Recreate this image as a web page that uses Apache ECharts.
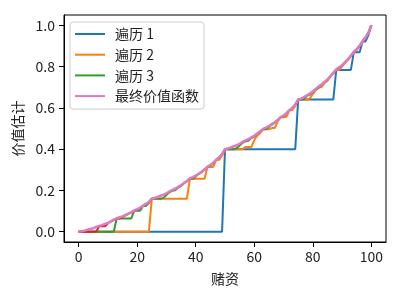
<!DOCTYPE html>
<html>
<head>
<meta charset="utf-8">
<script src="https://cdn.jsdelivr.net/npm/echarts@6/dist/echarts.min.js"></script>
<style>html,body{margin:0;padding:0;background:#fff}#c{width:400px;height:300px}</style>
</head>
<body>
<div id="c"></div>
<script>
// Stakes (x categories) 0..100
const stakes = Array.from({length: 101}, (_, i) => i);
const xTicks = [0, 20, 40, 60, 80, 100];
const yTicks = [0, 0.2, 0.4, 0.6, 0.8, 1.0];
const seriesNames = ['遍历 1', '遍历 2', '遍历 3', '最终价值函数'];

const sweep1 = [
  0,0,0,0,0,0,0,0,0,0,
  0,0,0,0,0,0,0,0,0,0,
  0,0,0,0,0,0,0,0,0,0,
  0,0,0,0,0,0,0,0,0,0,
  0,0,0,0,0,0,0,0,0,0,
  0.4,0.4,0.4,0.4,0.4,0.4,0.4,0.4,0.4,0.4,
  0.4,0.4,0.4,0.4,0.4,0.4,0.4,0.4,0.4,0.4,
  0.4,0.4,0.4,0.4,0.4,0.64,0.64,0.64,0.64,0.64,
  0.64,0.64,0.64,0.64,0.64,0.64,0.64,0.64,0.784,0.784,
  0.784,0.784,0.784,0.784,0.870,0.870,0.870,0.922,0.922,0.953,
  1
];
const sweep2 = [
  0,0,0,0,0,0,0,0,0,0,
  0,0,0,0,0,0,0,0,0,0,
  0,0,0,0,0,0.16,0.16,0.16,0.16,0.16,
  0.16,0.16,0.16,0.16,0.16,0.16,0.16,0.16,0.256,0.256,
  0.256,0.256,0.256,0.256,0.314,0.314,0.314,0.348,0.348,0.369,
  0.4,0.4,0.4,0.4,0.4,0.4,0.4,0.410,0.410,0.410,
  0.444,0.465,0.477,0.496,0.496,0.496,0.502,0.502,0.535,0.554,
  0.554,0.557,0.588,0.590,0.610,0.64,0.64,0.64,0.64,0.646,
  0.667,0.686,0.698,0.701,0.721,0.732,0.753,0.766,0.784,0.784,
  0.8,0.819,0.833,0.852,0.870,0.88,0.900,0.922,0.940,0.964,
  1
];
const sweep3 = [
  0,0,0,0,0,0,0,0,0,0,
  0,0,0,0.064,0.064,0.064,0.064,0.064,0.064,0.102,
  0.102,0.102,0.125,0.125,0.139,0.16,0.16,0.16,0.16,0.164,
  0.178,0.191,0.198,0.201,0.214,0.221,0.235,0.244,0.256,0.256,
  0.267,0.279,0.288,0.301,0.314,0.32,0.333,0.348,0.36,0.376,
  0.4,0.4,0.4,0.4,0.404,0.418,0.431,0.438,0.441,0.454,
  0.461,0.475,0.484,0.496,0.496,0.507,0.519,0.528,0.541,0.554,
  0.56,0.573,0.588,0.600,0.616,0.64,0.64,0.642,0.659,0.664,
  0.677,0.690,0.698,0.711,0.725,0.736,0.753,0.770,0.784,0.795,
  0.806,0.819,0.835,0.852,0.870,0.884,0.901,0.922,0.941,0.965,
  1
];
const sweep4 = [
  0,0,0,0,0,0,0,0.026,0.026,0.026,
  0.041,0.050,0.056,0.064,0.064,0.071,0.079,0.086,0.094,0.102,
  0.107,0.115,0.126,0.133,0.144,0.160
];
const finalValues = [
  0,0.002,0.005,0.009,0.013,0.017,0.023,0.028,0.032,0.038,
  0.043,0.050,0.058,0.065,0.070,0.074,0.081,0.087,0.094,0.103,
  0.109,0.116,0.126,0.134,0.144,0.160,0.163,0.168,0.174,0.179,
  0.186,0.195,0.202,0.208,0.217,0.225,0.236,0.246,0.258,0.264,
  0.272,0.281,0.290,0.301,0.315,0.323,0.334,0.349,0.360,0.376,
  0.400,0.403,0.408,0.414,0.419,0.426,0.435,0.442,0.448,0.457,
  0.465,0.476,0.486,0.498,0.504,0.512,0.521,0.530,0.541,0.555,
  0.563,0.574,0.589,0.600,0.616,0.640,0.645,0.652,0.661,0.669,
  0.679,0.692,0.703,0.713,0.725,0.738,0.753,0.770,0.787,0.796,
  0.807,0.822,0.835,0.852,0.872,0.884,0.901,0.923,0.941,0.964,
  1
];

const FONT = 'Noto Sans CJK SC';
const pair = arr => arr.map((v, i) => [stakes[i], v]);
function line(name, data, color, width) {
  return {
    name: name, type: 'line', data: pair(data), symbol: 'none', showSymbol: false,
    lineStyle: {color: color, width: width}, itemStyle: {color: color},
    emphasis: {disabled: true}, z: 2
  };
}

const chart = echarts.init(document.getElementById('c'), null, {renderer: 'canvas'});
chart.setOption({
  animation: false,
  backgroundColor: '#fff',
  textStyle: {fontFamily: FONT},
  grid: {left: 64, right: 14, top: 15, bottom: 58, show: true, borderColor: '#000', borderWidth: 1, containLabel: false},
  xAxis: {
    type: 'value', min: -5, max: 105,
    name: '赌资', nameLocation: 'middle', nameGap: 30,
    nameTextStyle: {fontFamily: FONT, fontSize: 14, color: '#222'},
    axisLine: {show: true, onZero: false, lineStyle: {color: '#000', width: 1}},
    axisTick: {show: true, inside: false, length: 5, customValues: xTicks, lineStyle: {color: '#000'}},
    axisLabel: {customValues: xTicks, fontFamily: FONT, fontSize: 14, color: '#222', margin: 8},
    splitLine: {show: false}
  },
  yAxis: {
    type: 'value', min: -0.05, max: 1.05,
    name: '价值估计', nameLocation: 'middle', nameGap: 34, nameRotate: 90,
    nameTextStyle: {fontFamily: FONT, fontSize: 14, color: '#222'},
    axisLine: {show: true, onZero: false, lineStyle: {color: '#000', width: 1}},
    axisTick: {show: true, inside: false, length: 5, customValues: yTicks, lineStyle: {color: '#000'}},
    axisLabel: {customValues: yTicks, fontFamily: FONT, fontSize: 14, color: '#222', margin: 9,
      formatter: v => Number(v).toFixed(1)},
    splitLine: {show: false}
  },
  legend: {
    data: seriesNames,
    orient: 'vertical', left: 70, top: 22,
    padding: [5, 5, 6, 5],
    icon: 'rect',
    itemWidth: 30, itemHeight: 2, itemGap: 6.7,
    backgroundColor: 'rgba(255,255,255,0.8)', borderColor: '#cccccc', borderWidth: 1, borderRadius: 3,
    textStyle: {fontFamily: FONT, fontSize: 14, color: '#222', padding: [0, 0, 0, 5], lineHeight: 14},
    selectedMode: false
  },
  series: [
    line(seriesNames[0], sweep1, '#1f77b4', 2),
    line(seriesNames[1], sweep2, '#ff7f0e', 2),
    line(seriesNames[2], sweep3, '#2ca02c', 2),
    line('遍历 4', sweep4, '#d62728', 2),
    line(seriesNames[3], finalValues, '#e377c2', 2.5)
  ]
});
</script>
</body>
</html>
